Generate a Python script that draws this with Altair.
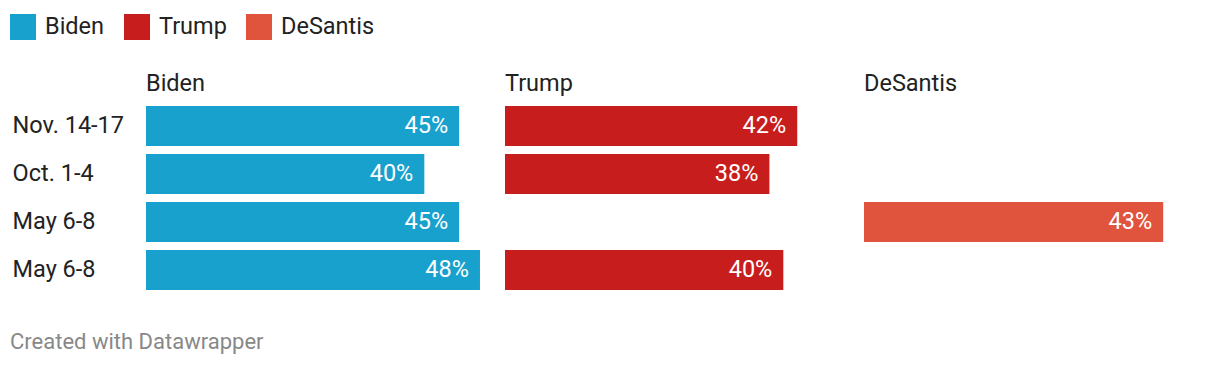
import json
import altair as alt
import pandas as pd

dates = ["Nov. 14-17", "Oct. 1-4", "May 6-8", "May 6-8"]
candidates = ["Biden", "Trump", "DeSantis"]
colors = ["#18a1cd", "#c71e1d", "#e0533c"]
biden = [45, 40, 45, 48]
trump = [42, 38, None, 40]
desantis = [None, None, 43, None]

rows = []
for cand, vals in zip(candidates, [biden, trump, desantis]):
    for i, v in enumerate(vals):
        if v is not None:
            rows.append({"row": i, "candidate": cand, "value": v, "label": f"{v}%"})
df = pd.DataFrame(rows)

label_expr = json.dumps(dates) + "[datum.value]"
row_ids = list(range(len(dates)))

base = alt.Chart().encode(
    y=alt.Y(
        "row:O",
        sort=row_ids,
        scale=alt.Scale(domain=row_ids, paddingInner=1 / 6, paddingOuter=1 / 12),
        axis=alt.Axis(
            title=None, domain=False, ticks=False, labelAlign="left",
            labelPadding=134, labelFontSize=23.5, labelFont="Roboto",
            labelColor="#222222", labelExpr=label_expr,
        ),
    ),
    x=alt.X("value:Q", scale=alt.Scale(domain=[0, 48.29], nice=False), axis=None),
)

bars = base.mark_bar().encode(
    color=alt.Color(
        "candidate:N",
        scale=alt.Scale(domain=candidates, range=colors),
        legend=alt.Legend(
            title=None, orient="none", legendX=-136, legendY=-88,
            direction="horizontal", symbolType="square", symbolSize=676,
            symbolStrokeWidth=0, symbolOpacity=1, labelFontSize=23.5,
            labelFont="Roboto", labelColor="#222222", columnPadding=19,
            labelOffset=9,
        ),
    )
)
text = base.mark_text(
    align="right", dx=-11, color="white", fontSize=23.5, font="Roboto"
).encode(text="label:N")

chart = (
    alt.layer(bars, text, data=df)
    .properties(width=336, height=192)
    .facet(
        column=alt.Column(
            "candidate:N", sort=candidates,
            header=alt.Header(
                title=None, labelOrient="top", labelAnchor="start",
                labelAlign="left", labelFontSize=23.5, labelFont="Roboto",
                labelColor="#222222", labelPadding=7,
            ),
        ),
        spacing=23,
    )
    .properties(
        title=alt.TitleParams(
            "Created with Datawrapper", orient="bottom", anchor="start",
            frame="bounds", fontSize=22, font="Roboto", color="#888888",
            fontWeight="normal", offset=38,
        ),
        padding={"left": 2, "top": 6, "right": 5, "bottom": 5},
    )
    .configure(font="Roboto")
    .configure_view(stroke="transparent", strokeWidth=0)
)

chart.save("out.html", embed_options={"renderer": "svg", "actions": False})
